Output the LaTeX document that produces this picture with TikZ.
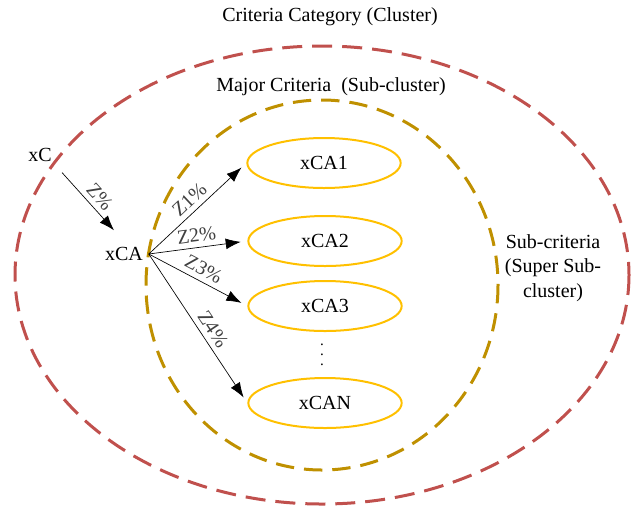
\documentclass[tikz,border=0pt]{standalone}
\usepackage{fontspec}
\setmainfont{Liberation Serif}
\usepackage{tikz}
\usetikzlibrary{shapes.geometric,arrows.meta}
\definecolor{clusterred}{HTML}{C0504D}
\definecolor{subgold}{HTML}{BF9000}
\definecolor{itemyellow}{HTML}{FFC000}

\begin{document}
\begin{tikzpicture}[
		x=0.6pt, y=-0.6pt,
		every node/.style={font=\fontsize{12}{14.6}\selectfont},
		cluster/.style={draw=clusterred, line width=1.8pt, dash pattern=on 12pt off 6pt},
		subcluster/.style={draw=subgold, line width=1.8pt, dash pattern=on 11pt off 6pt},
		item/.style={ellipse, draw=itemyellow, line width=1.2pt, minimum width=92pt, minimum height=30pt},
		link/.style={-{Latex[length=9pt, width=6.5pt]}, thin, shorten >=4pt},
		pct/.style={sloped, above, text=black!75, inner sep=3pt}
	]
  \useasboundingbox (0,0) rectangle (638,511);
  \draw [cluster] (322,275) ellipse [x radius=307, y radius=229];
  \draw [subcluster] (322,285) ellipse [x radius=176, y radius=185];
  \node (t_cluster) at (330,17) {Criteria Category (Cluster)};
  \node (t_sub) at (331,87) {Major Criteria\ \ (Sub-cluster)};
  \node (t_super) [align=center] at (553,268) {Sub-criteria\\(Super Sub-\\cluster)};
  \node (xC) at (40,155) {xC};
  \node (xCA) at (124,254) {xCA};
  \node (ca1) [item] at (324,163) {xCA1};
  \node (ca2) [item] at (325,241) {xCA2};
  \node (ca3) [item] at (325,306) {xCA3};
  \node (caN) [item] at (325,403) {xCAN};
  \node (dots) [align=center, inner sep=0pt, font=\fontsize{9}{6}\selectfont] at (322,355) {.\\.\\.};
  \draw [link, shorten <=4pt, shorten >=9pt] (xC.south east) -- node [pct] {Z\%} (xCA.north);
  \draw [link] (xCA.east) -- node [pct] {Z1\%} (ca1.west);
  \draw [link] (xCA.east) -- node [pct] {Z2\%} (ca2.west);
  \draw [link] (xCA.east) -- node [pct] {Z3\%} (ca3.west);
  \draw [link] (xCA.east) -- node [pct, pos=0.55] {Z4\%} (caN.west);
\end{tikzpicture}
\end{document}
